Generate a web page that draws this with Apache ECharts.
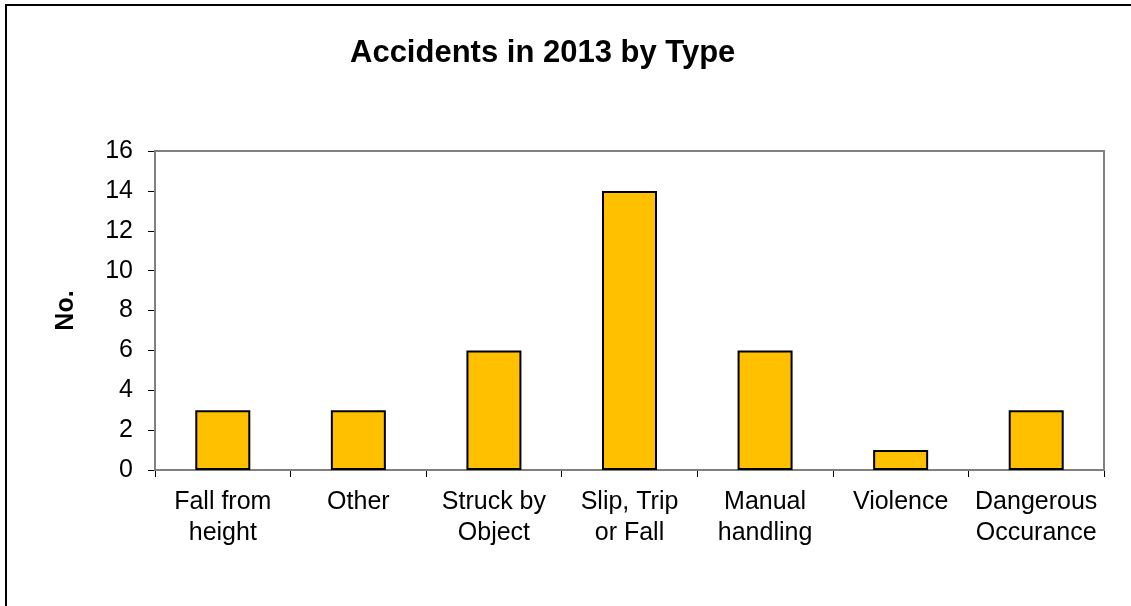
<!DOCTYPE html>
<html><head><meta charset="utf-8">
<script src="https://cdn.jsdelivr.net/npm/echarts@6/dist/echarts.min.js"></script>
<style>html,body{margin:0;padding:0;background:#fff}#c{width:1131px;height:606px}</style>
</head><body><div id="c"></div>
<script>
const categories = ["Fall from\nheight", "Other", "Struck by\nObject", "Slip, Trip\nor Fall", "Manual\nhandling", "Violence", "Dangerous\nOccurance"];
const values = [3, 3, 6, 14, 6, 1, 3];
const yTicks = [0, 2, 4, 6, 8, 10, 12, 14, 16];
const titleText = "Accidents in 2013 by Type";
const yName = "No.";

const chart = echarts.init(document.getElementById('c'), null, {renderer: 'canvas'});
const F = '"Liberation Sans", Arial, sans-serif';
chart.setOption({
  animation: false,
  backgroundColor: '#fff',
  title: {
    text: titleText, left: 345, top: 33,
    textStyle: {fontFamily: F, fontWeight: 'bold', fontSize: 31, color: '#000'}
  },
  graphic: [
    {type: 'rect', shape: {x: 6, y: 5, width: 1300, height: 800}, style: {fill: 'none', stroke: '#000', lineWidth: 2}, silent: true},
    {type: 'rect', shape: {x: 155, y: 151, width: 949, height: 319}, style: {fill: 'none', stroke: '#808080', lineWidth: 2}, silent: true, z: 1}
  ],
  grid: {left: 155, top: 151, right: 27, bottom: 136, containLabel: false},
  xAxis: {
    type: 'category', data: categories,
    axisLine: {lineStyle: {color: '#000', width: 1.5}},
    axisTick: {show: true, alignWithLabel: false, length: 7, lineStyle: {color: '#000'}},
    axisLabel: {fontFamily: F, fontSize: 25, color: '#000', margin: 17, lineHeight: 31, interval: 0}
  },
  yAxis: {
    type: 'value', min: yTicks[0], max: yTicks[yTicks.length - 1], interval: 2,
    name: yName, nameLocation: 'middle', nameGap: 76, nameRotate: 90,
    nameTextStyle: {fontFamily: F, fontWeight: 'bold', fontSize: 25, color: '#000'},
    axisLine: {show: true, lineStyle: {color: '#000', width: 1.5}},
    axisTick: {show: true, length: 7, lineStyle: {color: '#000'}},
    axisLabel: {fontFamily: F, fontSize: 25, color: '#000', margin: 22},
    splitLine: {show: false}
  },
  series: [{
    type: 'bar', data: values, barWidth: 55,
    itemStyle: {color: '#FFC000', borderColor: '#000', borderWidth: 2}
  }]
});
</script></body></html>
